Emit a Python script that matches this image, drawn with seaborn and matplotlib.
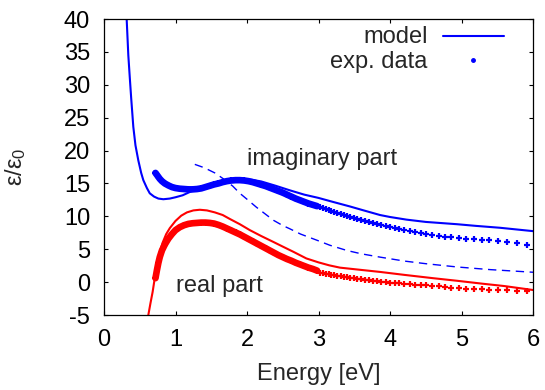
import numpy as np
import pandas as pd
import seaborn as sns
import matplotlib
matplotlib.use("Agg")
import matplotlib.pyplot as plt

# model curves
imag_model_E = [0.317, 0.34, 0.36, 0.38, 0.41, 0.44, 0.48, 0.52, 0.55, 0.6, 0.64, 0.7, 0.76, 0.83,
                0.92, 1.0, 1.1, 1.2, 1.3, 1.4, 1.5, 1.6, 1.7, 1.8, 1.9, 2.0, 2.1, 2.2, 2.4, 2.6,
                2.8, 3.0, 3.2, 3.44, 3.6, 3.86, 4.0, 4.23, 4.5, 4.94, 5.2, 5.54, 6.0]
imag_model = [40, 34.5, 31.2, 28, 23.6, 20.8, 18.5, 16.6, 15.5, 14.3, 13.5, 13.0, 12.7, 12.6,
              12.7, 12.9, 13.2, 13.7, 14.1, 14.6, 15.0, 15.3, 15.5, 15.65, 15.7, 15.65, 15.5, 15.3,
              14.65, 13.95, 13.3, 12.8, 12.2, 11.5, 11.0, 10.2, 9.9, 9.5, 9.15, 8.8, 8.55, 8.26, 7.75]

imag_dash_E = [1.27, 1.4, 1.55, 1.67, 1.8, 1.9, 2.0, 2.13, 2.25, 2.37, 2.5, 2.6, 2.75, 2.97,
               3.16, 3.4, 3.6, 3.86, 4.2, 4.5, 4.94, 5.4, 6.0]
imag_dash = [17.9, 17.4, 16.6, 15.7, 14.6, 13.5, 12.6, 11.4, 10.4, 9.4, 8.6, 8.1, 7.3, 6.4,
             5.6, 4.8, 4.3, 3.8, 3.2, 2.8, 2.3, 1.9, 1.5]

real_model_E = [0.62, 0.65, 0.68, 0.71, 0.75, 0.78, 0.82, 0.87, 0.92, 1.0, 1.08, 1.16, 1.25, 1.34,
                1.44, 1.55, 1.66, 1.76, 1.9, 2.04, 2.2, 2.37, 2.5, 2.65, 2.83, 3.0, 3.15, 3.3, 3.6,
                3.86, 4.2, 4.6, 4.94, 5.3, 5.6, 6.0]
real_model = [-5, -3.2, -1.5, 0.6, 3.0, 4.6, 6.0, 7.3, 8.2, 9.3, 10.1, 10.6, 10.9, 11.0,
              10.9, 10.6, 10.2, 9.6, 8.8, 7.9, 7.0, 6.1, 5.4, 4.6, 3.6, 3.0, 2.55, 2.2, 1.85,
              1.55, 1.1, 0.6, 0.2, -0.25, -0.6, -1.2]

# experimental data, dense part (< 3 eV)
exp_dense_E = [0.72, 0.74, 0.76, 0.78, 0.81, 0.85, 0.90, 0.95, 1.00, 1.06, 1.12, 1.18, 1.24, 1.30,
               1.36, 1.42, 1.48, 1.54, 1.60, 1.66, 1.72, 1.78, 1.84, 1.90, 1.96, 2.02, 2.08, 2.14,
               2.20, 2.26, 2.32, 2.38, 2.44, 2.50, 2.56, 2.62, 2.68, 2.74, 2.80, 2.86, 2.92, 2.98]
exp_dense_imag = [16.6, 16.3, 16.0, 15.7, 15.35, 15.0, 14.7, 14.45, 14.3, 14.2, 14.15, 14.1, 14.1, 14.15,
                  14.25, 14.45, 14.65, 14.85, 15.0, 15.2, 15.35, 15.45, 15.5, 15.5, 15.45, 15.35, 15.2, 15.0,
                  14.8, 14.6, 14.35, 14.1, 13.85, 13.6, 13.3, 13.0, 12.7, 12.45, 12.2, 11.95, 11.75, 11.55]
exp_dense_real = [0.6, 1.8, 2.9, 3.8, 4.8, 5.7, 6.6, 7.3, 7.9, 8.35, 8.65, 8.85, 8.95, 9.0,
                  9.05, 9.05, 9.0, 8.9, 8.7, 8.45, 8.15, 7.85, 7.55, 7.25, 6.9, 6.55, 6.2, 5.85,
                  5.5, 5.15, 4.8, 4.45, 4.1, 3.8, 3.5, 3.25, 2.95, 2.7, 2.45, 2.2, 2.0, 1.75]

# experimental data, sparse part (> 3 eV)
exp_sparse_E = [3.02, 3.06, 3.10, 3.14, 3.18, 3.22, 3.26, 3.31, 3.35, 3.40, 3.44, 3.49, 3.54, 3.59,
                3.65, 3.70, 3.76, 3.82, 3.88, 3.94, 4.00, 4.07, 4.13, 4.20, 4.28, 4.35, 4.43, 4.51,
                4.59, 4.68, 4.77, 4.86, 4.96, 5.06, 5.17, 5.28, 5.39, 5.51, 5.64, 5.77, 5.91]
exp_sparse_imag = [11.35, 11.2, 11.05, 10.9, 10.75, 10.6, 10.45, 10.3, 10.15, 10.0, 9.9, 9.75, 9.6, 9.45,
                   9.3, 9.15, 8.95, 8.8, 8.65, 8.5, 8.35, 8.2, 8.05, 7.95, 7.8, 7.6, 7.45, 7.3,
                   7.12, 7.0, 6.92, 6.8, 6.7, 6.6, 6.55, 6.45, 6.35, 6.2, 6.05, 5.9, 5.7]
exp_sparse_real = [1.45, 1.37, 1.29, 1.21, 1.13, 1.05, 0.97, 0.89, 0.81, 0.74, 0.67, 0.6, 0.53, 0.46,
                   0.38, 0.3, 0.22, 0.12, 0.03, -0.04, -0.1, -0.15, -0.2, -0.25, -0.3, -0.37, -0.44, -0.5,
                   -0.57, -0.65, -0.73, -0.82, -0.92, -1.0, -1.06, -1.1, -1.14, -1.2, -1.26, -1.32, -1.4]

x_ticks = [0, 1, 2, 3, 4, 5, 6]
y_ticks = [-5, 0, 5, 10, 15, 20, 25, 30, 35, 40]

sns.set_style("ticks")
plt.rcParams['font.family'] = ['Liberation Sans', 'DejaVu Sans']
plt.rcParams['mathtext.fontset'] = 'custom'
plt.rcParams['mathtext.rm'] = 'Liberation Sans'
plt.rcParams['mathtext.it'] = 'Liberation Sans'
plt.rcParams['axes.unicode_minus'] = False

blue = '#0000ff'
red = '#ff0000'

fig = plt.figure(figsize=(5.45, 3.9), dpi=100)
ax = fig.add_axes([104/545, 1-315/390, 429/545, 296/390])

sns.lineplot(x=imag_model_E, y=imag_model, color=blue, lw=1.5, estimator=None, ax=ax)
sns.lineplot(x=imag_dash_E, y=imag_dash, color=blue, lw=1.0, estimator=None,
             linestyle=(0, (6, 4)), ax=ax)
sns.lineplot(x=real_model_E, y=real_model, color=red, lw=1.5, estimator=None, ax=ax)

# dense points overlap into a thick band
sns.lineplot(x=exp_dense_E, y=exp_dense_imag, color=blue, lw=4.8, estimator=None, ax=ax)
sns.lineplot(x=exp_dense_E, y=exp_dense_real, color=red, lw=4.8, estimator=None, ax=ax)
sns.scatterplot(x=exp_dense_E, y=exp_dense_imag, marker='+', s=16, linewidth=1.6, color=blue, ax=ax)
sns.scatterplot(x=exp_dense_E, y=exp_dense_real, marker='+', s=16, linewidth=1.6, color=red, ax=ax)
sns.scatterplot(x=exp_sparse_E, y=exp_sparse_imag, marker='+', s=14, linewidth=1.6, color=blue, ax=ax)
sns.scatterplot(x=exp_sparse_E, y=exp_sparse_real, marker='+', s=14, linewidth=1.6, color=red, ax=ax)

ax.set_xlim(0, 6)
ax.set_ylim(-5, 40)
ax.set_xticks(x_ticks)
ax.set_yticks(y_ticks)
ax.tick_params(direction='in', length=3, width=0.8, labelsize=17, pad=10,
               top=True, right=True, colors='black')
for sp in ax.spines.values():
    sp.set_visible(True)
    sp.set_linewidth(0.9)
    sp.set_color('black')
ax.set_xlabel('Energy [eV]', fontsize=17, labelpad=9)
ax.set_ylabel('ε/ε$_0$', fontsize=17, labelpad=26)

ax.text(2.0, 17.8, 'imaginary part', fontsize=17, va='baseline')
ax.text(1.0, -1.5, 'real part', fontsize=17, va='baseline')

# key, drawn the gnuplot way: label right-aligned, sample to its right
ax.text(0.754, 0.918, 'model', transform=ax.transAxes, fontsize=17, ha='right', va='baseline')
ax.text(0.754, 0.833, 'exp. data', transform=ax.transAxes, fontsize=17, ha='right', va='baseline')
ax.plot([0.79, 0.933], [0.943, 0.943], transform=ax.transAxes, color=blue, lw=1.5)
ax.plot([0.861], [0.862], transform=ax.transAxes, color=blue, marker='o', ms=2.5, ls='none')

fig.savefig('out.png', dpi=100)
